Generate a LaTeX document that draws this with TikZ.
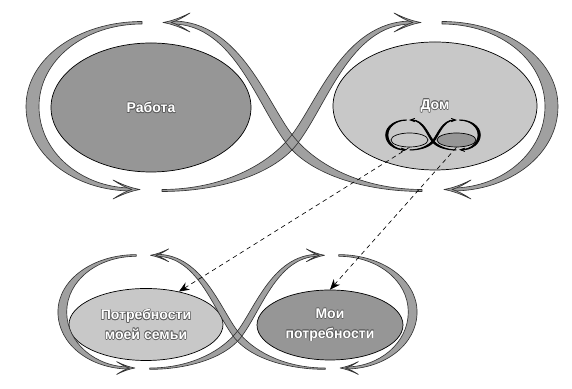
\documentclass[tikz,border=0pt]{standalone}
\usepackage{fontspec}
\usepackage{xcolor}
\usepackage{tikz}
\usetikzlibrary{arrows.meta,shapes.geometric,positioning}
\newfontfamily\labelfont{Liberation Sans}
\definecolor{bandgray}{RGB}{160,160,160}
\definecolor{workgray}{RGB}{150,150,150}
\definecolor{homegray}{RGB}{200,200,200}
\definecolor{halogray}{RGB}{95,95,95}
% white letters with a grey rim
\newcommand{\halo}[1]{%
  \foreach \hx/\hy in {.45/0,-.45/0,0/.45,0/-.45,.32/.32,-.32/.32,.32/-.32,-.32/-.32}{%
    \rlap{\hspace*{\hx pt}\raisebox{\hy pt}{\textcolor{halogray}{#1}}}}%
  #1}

\tikzset{
  bandfill/.style={fill=bandgray},
  bandline/.style={draw=black!80, line width=0.45pt, line join=round},
  chev/.pic={
    \path[bandfill, bandline] (0,0) .. controls (-9,-1.5) and (-18,-5) .. (-27,-9.5)
      .. controls (-21,-5.5) and (-14,-1.5) .. (-8,0)
      .. controls (-14,1.5) and (-21,5.5) .. (-27,9.5)
      .. controls (-18,5) and (-9,1.5) .. (0,0) -- cycle;
  },
  eightloop/.pic={
    \foreach \act in {bandfill,bandline}
      \foreach \s in {1,-1}{
        \begin{scope}[xscale=\s]
          % outer arc
          \path[\act] (-150,85) .. controls (-214,85) and (-266,48) .. (-266,0)
            .. controls (-266,-48) and (-218,-84.5) .. (-160,-84.5) -- (-160,-81.5)
            .. controls (-210,-81.5) and (-253,-46) .. (-253,0)
            .. controls (-253,46) and (-208,82.5) .. (-150,82.5) -- cycle;
          % crossing band
          \path[\act] (130,-83) .. controls (75,-83) and (29,-62) .. (3.5,-32.5)
            .. controls (-24,-0.5) and (-50,85.5) .. (-120,85.5) -- (-120,82.5)
            .. controls (-57,82.5) and (-34,-2.5) .. (-3.5,-39.5)
            .. controls (21,-69) and (75,-85) .. (130,-85) -- cycle;
        \end{scope}
      }
    \foreach \s in {1,-1}{
      \begin{scope}[xscale=\s]
        \pic[transform shape] at (-152,-83) {chev};
        \pic[transform shape, rotate=180] at (-129,84) {chev};
      \end{scope}
    }
  }
}

\begin{document}
\begin{tikzpicture}[
  x=0.25mm, y=0.25mm,
  blob/.style 2 args={ellipse, draw=black, line width=0.5pt, inner sep=0pt,
    minimum width=#1*0.5mm, minimum height=#2*0.5mm},
  lbl/.style={text=white, align=center, font=\labelfont\bfseries\fontsize{10}{14}\selectfont},
  dasharr/.style={-{Stealth[length=2.6mm, width=2.1mm]}, line width=0.45pt, dash pattern=on 3.2pt off 2.6pt}
]
\path[use as bounding box, fill=white] (0,0) rectangle (572,389);

% upper level
\node[blob={100}{64.5}, fill=workgray, lbl] (work) at (151,281.5) {\halo{Работа}};
\node[blob={102}{64}, fill=homegray, lbl] (home) at (435,283) {\halo{Дом}};
\pic at (292,282.5) {eightloop};

% small copy inside home
\node[blob={18.5}{7}, fill=homegray] (famS) at (409.5,249) {};
\node[blob={19.5}{7}, fill=workgray] (meS) at (456.5,249) {};
\pic[scale=0.178, bandfill/.style={fill=black}, bandline/.style={draw=black, line width=0.5pt}] at (433,254) {eightloop};

% lower level
\node[blob={77}{36}, fill=homegray, lbl] (fam) at (146,64.5) {\halo{Потребности}\\\halo{моей семьи}};
\node[blob={73}{35}, fill=workgray, lbl] (me) at (330,64) {\halo{Мои}\\\halo{потребности}};
\pic[scale=0.675] at (237.5,77) {eightloop};

\draw[dasharr] (famS.south) -- (fam.45);
\draw[dasharr] (meS.south) -- (me.north);
\end{tikzpicture}
\end{document}
